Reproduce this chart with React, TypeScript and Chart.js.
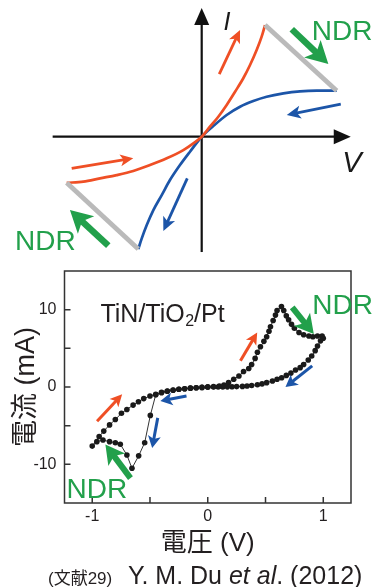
import React, { useEffect, useRef } from "react";
import { Chart, registerables } from "chart.js";
Chart.register(...registerables);

const SANS = "'Liberation Sans', Arial, 'Noto Sans CJK JP', sans-serif";
const TEXT = "#231f20";
const RED = "#ef4f25";
const BLUE = "#1c55a8";
const GREEN = "#22a04b";
const GRAY = "#bababa";

// ---------- schematic (top) ----------
const schemRedV = [-1, -0.877, -0.753, -0.63, -0.507, -0.383, -0.259, -0.136, -0.062, 0, 0.061, 0.123, 0.185, 0.247, 0.308, 0.358, 0.407, 0.444, 0.469];
const schemRedI = [-0.341, -0.333, -0.308, -0.284, -0.254, -0.21, -0.16, -0.099, -0.049, 0, 0.074, 0.148, 0.235, 0.333, 0.433, 0.531, 0.642, 0.741, 0.827];
const schemBlueV = [-0.47, -0.444, -0.407, -0.358, -0.296, -0.235, -0.161, -0.087, 0, 0.086, 0.185, 0.284, 0.382, 0.481, 0.605, 0.728, 0.852, 1.0];
const schemBlueI = [-0.832, -0.753, -0.654, -0.543, -0.432, -0.321, -0.21, -0.111, 0, 0.079, 0.161, 0.222, 0.264, 0.296, 0.321, 0.336, 0.341, 0.341];
const ndrTopV = [0.469, 1.0];
const ndrTopI = [0.827, 0.341];
const ndrBotV = [-1.0, -0.47];
const ndrBotI = [-0.341, -0.832];

// ---------- measured I-V loop (bottom), V in volts, I in mA ----------
const setPosV = [0, 0.05, 0.1, 0.14, 0.18, 0.225, 0.27, 0.31, 0.355, 0.38, 0.41, 0.43, 0.456, 0.486, 0.51, 0.53, 0.543, 0.566, 0.586, 0.6, 0.638, 0.658, 0.68, 0.7, 0.725, 0.75, 0.79, 0.83, 0.875, 0.91, 0.95, 0.99, 1.0];
const setPosI = [0, 0.05, 0.12, 0.25, 0.56, 1.0, 1.43, 2.0, 2.4, 2.9, 3.7, 4.5, 5.2, 5.9, 6.5, 7.2, 7.8, 8.6, 9.3, 9.9, 10.4, 9.9, 9.2, 8.7, 8.1, 7.6, 7.05, 6.75, 6.6, 6.5, 6.6, 6.6, 6.3];
const retPosV = [0.976, 0.95, 0.93, 0.9, 0.87, 0.83, 0.8, 0.76, 0.72, 0.68, 0.64, 0.6, 0.56, 0.51, 0.47, 0.43, 0.38, 0.34, 0.3, 0.25, 0.21, 0.17, 0.13, 0.09, 0.05, 0];
const retPosI = [5.97, 5.3, 4.7, 4.0, 3.5, 2.9, 2.5, 2.2, 1.8, 1.5, 1.2, 1.0, 0.78, 0.56, 0.4, 0.3, 0.2, 0.12, 0.08, 0.05, 0.03, 0.02, 0, 0, 0, 0];
const setNegV = [-0.05, -0.1, -0.15, -0.2, -0.25, -0.3, -0.35, -0.4, -0.45, -0.497, -0.546, -0.598, -0.656, -0.7, -0.757, -0.8, -0.85, -0.907, -0.96, -1.0];
const setNegI = [-0.05, -0.1, -0.15, -0.22, -0.3, -0.4, -0.52, -0.68, -1.0, -3.67, -7.2, -8.9, -10.5, -8.8, -7.4, -7.2, -7.07, -6.86, -7.07, -7.64];
const retNegV = [-0.94, -0.9, -0.85, -0.8, -0.747, -0.7, -0.646, -0.6, -0.554, -0.5, -0.45, -0.4, -0.35, -0.3, -0.25, -0.2, -0.15, -0.1, -0.05, 0];
const retNegI = [-6.4, -5.7, -4.9, -4.2, -3.4, -2.9, -2.34, -1.9, -1.5, -1.17, -0.95, -0.75, -0.55, -0.42, -0.3, -0.22, -0.15, -0.1, -0.05, 0];

const xTicks = [-1, -0.5, 0, 0.5, 1];
const xTickLabels = [-1, 0, 1];
const yTicks = [-10, -5, 0, 5, 10];
const yTickLabels = [-10, 0, 10];

const xTitle = "電圧 (V)";
const yTitle = "電流 (mA)";
const sampleLabel = ["TiN/TiO", "2", "/Pt"];
const ndrLabel = "NDR";
const citeRef = "(文献29)";
const citeAuthors = "Y. M. Du ";
const citeEtAl = "et al";
const citeYear = ". (2012)";

const pts = (xs: number[], ys: number[]) => xs.map((x, i) => ({ x, y: ys[i] }));

function arrow(ctx: CanvasRenderingContext2D, x1: number, y1: number, x2: number, y2: number, color: string, w: number, hl: number, hw: number, notch = 0.25) {
  const a = Math.atan2(y2 - y1, x2 - x1);
  const c = Math.cos(a), s = Math.sin(a);
  const bx = x2 - hl * c, by = y2 - hl * s;
  const nx = bx + hl * notch * c, ny = by + hl * notch * s;
  ctx.save();
  ctx.strokeStyle = color;
  ctx.fillStyle = color;
  ctx.lineWidth = w;
  ctx.lineCap = "butt";
  ctx.beginPath();
  ctx.moveTo(x1, y1);
  ctx.lineTo(nx + c, ny + s);
  ctx.stroke();
  ctx.beginPath();
  ctx.moveTo(x2, y2);
  ctx.lineTo(bx + (hw / 2) * s, by - (hw / 2) * c);
  ctx.lineTo(nx, ny);
  ctx.lineTo(bx - (hw / 2) * s, by + (hw / 2) * c);
  ctx.closePath();
  ctx.fill();
  ctx.restore();
}

const schemPlugin = {
  id: "schem",
  beforeDatasetsDraw(chart: any) {
    const ctx = chart.ctx as CanvasRenderingContext2D;
    const xs = chart.scales.x, ys = chart.scales.y;
    const X = (v: number) => xs.getPixelForValue(v);
    const Y = (v: number) => ys.getPixelForValue(v);
    arrow(ctx, X(0), Y(-0.854), X(0), Y(0.953), "#111", 2.2, 17, 15, 0);
    arrow(ctx, X(-1.104), Y(0), X(1.104), Y(0), "#111", 2.2, 17, 15, 0);
  },
  afterDatasetsDraw(chart: any) {
    const ctx = chart.ctx as CanvasRenderingContext2D;
    const xs = chart.scales.x, ys = chart.scales.y;
    const X = (v: number) => xs.getPixelForValue(v);
    const Y = (v: number) => ys.getPixelForValue(v);
    arrow(ctx, X(0.13), Y(0.464), X(0.284), Y(0.79), RED, 2.8, 13, 12);
    arrow(ctx, X(-0.963), Y(-0.234), X(-0.507), Y(-0.16), RED, 2.8, 13, 12);
    arrow(ctx, X(1.03), Y(0.242), X(0.63), Y(0.161), BLUE, 2.8, 14, 13);
    arrow(ctx, X(-0.107), Y(-0.308), X(-0.284), Y(-0.699), BLUE, 2.8, 14, 13);
    arrow(ctx, X(0.667), Y(0.796), X(0.938), Y(0.539), GREEN, 6.5, 22, 24);
    arrow(ctx, X(-0.692), Y(-0.807), X(-0.976), Y(-0.543), GREEN, 6.5, 22, 24);
    ctx.save();
    ctx.fillStyle = "#1a1a1a";
    ctx.textBaseline = "alphabetic";
    ctx.textAlign = "center";
    ctx.font = `italic 25px ${SANS}`;
    ctx.fillText("I", X(0.187), Y(0.79));
    ctx.font = `italic 29px ${SANS}`;
    ctx.fillText("V", X(1.113), Y(-0.261));
    ctx.fillStyle = GREEN;
    ctx.textAlign = "left";
    ctx.font = `28px ${SANS}`;
    ctx.fillText(ndrLabel, X(0.815), Y(0.716));
    ctx.fillText(ndrLabel, X(-1.383), Y(-0.839));
    ctx.restore();
  },
};

const plotPlugin = {
  id: "plotDeco",
  afterDatasetsDraw(chart: any) {
    const ctx = chart.ctx as CanvasRenderingContext2D;
    const xs = chart.scales.x, ys = chart.scales.y;
    const X = (v: number) => xs.getPixelForValue(v);
    const Y = (v: number) => ys.getPixelForValue(v);
    const a = chart.chartArea;
    ctx.save();
    ctx.strokeStyle = "#333";
    ctx.lineWidth = 1.5;
    ctx.strokeRect(a.left, a.top, a.right - a.left, a.bottom - a.top);
    ctx.beginPath();
    xTicks.forEach((v) => {
      ctx.moveTo(X(v), a.bottom);
      ctx.lineTo(X(v), a.bottom - 6);
    });
    yTicks.forEach((v) => {
      ctx.moveTo(a.left, Y(v));
      ctx.lineTo(a.left + 6, Y(v));
    });
    ctx.stroke();
    ctx.restore();

    arrow(ctx, X(0.283), Y(3.38), X(0.428), Y(7.05), RED, 3, 12, 12);
    arrow(ctx, X(-0.958), Y(-4.42), X(-0.741), Y(-0.95), RED, 3, 12, 12);
    arrow(ctx, X(0.904), Y(2.73), X(0.673), Y(0), BLUE, 3, 12, 13);
    arrow(ctx, X(-0.184), Y(-1.17), X(-0.41), Y(-1.82), BLUE, 3, 12, 13);
    arrow(ctx, X(-0.433), Y(-3.99), X(-0.481), Y(-7.88), BLUE, 3, 12, 13);
    arrow(ctx, X(0.731), Y(10.3), X(0.918), Y(6.84), GREEN, 6, 19, 21);
    arrow(ctx, X(-0.669), Y(-11.78), X(-0.886), Y(-7.44), GREEN, 6, 19, 21);

    ctx.save();
    ctx.textBaseline = "alphabetic";
    ctx.textAlign = "left";
    ctx.fillStyle = TEXT;
    let tx = X(-0.929);
    const ty = Y(8.35);
    ctx.font = `25px ${SANS}`;
    ctx.fillText(sampleLabel[0], tx, ty);
    tx += ctx.measureText(sampleLabel[0]).width;
    ctx.font = `16px ${SANS}`;
    ctx.fillText(sampleLabel[1], tx + 0.5, ty + 4);
    tx += ctx.measureText(sampleLabel[1]).width + 0.5;
    ctx.font = `25px ${SANS}`;
    ctx.fillText(sampleLabel[2], tx, ty);
    ctx.fillStyle = GREEN;
    ctx.font = `28px ${SANS}`;
    ctx.fillText(ndrLabel, X(0.904), Y(9.48));
    ctx.fillText(ndrLabel, X(-1.223), Y(-14.4));
    ctx.fillStyle = TEXT;
    const cy = chart.height - 3;
    ctx.font = `17px ${SANS}`;
    ctx.fillText(citeRef, 48, cy);
    let cx = 128;
    ctx.font = `25px ${SANS}`;
    ctx.fillText(citeAuthors, cx, cy);
    cx += ctx.measureText(citeAuthors).width;
    ctx.font = `italic 25px ${SANS}`;
    ctx.fillText(citeEtAl, cx, cy);
    cx += ctx.measureText(citeEtAl).width;
    ctx.font = `25px ${SANS}`;
    ctx.fillText(citeYear, cx, cy);
    ctx.restore();
  },
};

export default function App() {
  const topRef = useRef<HTMLCanvasElement>(null);
  const botRef = useRef<HTMLCanvasElement>(null);

  useEffect(() => {
    const top = new Chart(topRef.current as HTMLCanvasElement, {
      type: "scatter",
      data: {
        datasets: [
          { data: pts(ndrTopV, ndrTopI), showLine: true, borderColor: GRAY, borderWidth: 4.8, pointRadius: 0 },
          { data: pts(ndrBotV, ndrBotI), showLine: true, borderColor: GRAY, borderWidth: 4.8, pointRadius: 0 },
          { data: pts(schemRedV, schemRedI), showLine: true, borderColor: RED, borderWidth: 2.7, pointRadius: 0, cubicInterpolationMode: "monotone" },
          { data: pts(schemBlueV, schemBlueI), showLine: true, borderColor: BLUE, borderWidth: 2.7, pointRadius: 0, cubicInterpolationMode: "monotone" },
        ],
      } as any,
      options: {
        animation: false,
        responsive: false,
        maintainAspectRatio: false,
        devicePixelRatio: 1,
        layout: { padding: 0 },
        plugins: { legend: { display: false }, tooltip: { enabled: false } },
        scales: {
          x: { type: "linear", display: false, min: -1.494, max: 1.291 },
          y: { type: "linear", display: false, min: -0.913, max: 1.0126 },
        },
      } as any,
      plugins: [schemPlugin],
    });

    const loop = [
      ...pts(setPosV, setPosI),
      ...pts(retPosV, retPosI),
      ...pts(setNegV, setNegI),
      ...pts(retNegV, retNegI),
    ];

    const bottom = new Chart(botRef.current as HTMLCanvasElement, {
      type: "scatter",
      data: {
        datasets: [
          {
            data: loop,
            showLine: true,
            borderColor: "#333",
            borderWidth: 1,
            pointRadius: 2.8,
            pointBackgroundColor: "#1a1a1a",
            pointBorderWidth: 0,
          },
        ],
      } as any,
      options: {
        animation: false,
        responsive: false,
        maintainAspectRatio: false,
        devicePixelRatio: 1,
        layout: { padding: { left: 0, right: 25, top: 11, bottom: 28 } },
        plugins: { legend: { display: false }, tooltip: { enabled: false } },
        scales: {
          x: {
            type: "linear",
            min: -1.24,
            max: 1.24,
            afterBuildTicks: (s: any) => {
              s.ticks = xTicks.map((v) => ({ value: v }));
            },
            afterFit: (s: any) => {
              s.height = 56;
              s.paddingLeft = 0;
              s.paddingRight = 0;
            },
            grid: { display: false, drawTicks: false },
            border: { display: false },
            ticks: {
              padding: 4,
              color: TEXT,
              font: { family: SANS, size: 16 },
              maxRotation: 0,
              autoSkip: false,
              callback: (v: any) => (xTickLabels.includes(Number(v)) ? String(v) : ""),
            },
            title: { display: true, text: xTitle, color: TEXT, font: { family: SANS, size: 26 }, padding: 0 },
          },
          y: {
            type: "linear",
            min: -15,
            max: 15,
            afterBuildTicks: (s: any) => {
              s.ticks = yTicks.map((v) => ({ value: v }));
            },
            afterFit: (s: any) => {
              s.width = 64.5;
              s.paddingTop = 0;
              s.paddingBottom = 0;
            },
            grid: { display: false, drawTicks: false },
            border: { display: false },
            ticks: {
              padding: 8,
              color: TEXT,
              font: { family: SANS, size: 16 },
              autoSkip: false,
              callback: (v: any) => (yTickLabels.includes(Number(v)) ? String(v) : ""),
            },
            title: { display: true, text: yTitle, color: TEXT, font: { family: SANS, size: 27 }, padding: { top: 10, bottom: 0 } },
          },
        },
      } as any,
      plugins: [plotPlugin],
    });

    return () => {
      top.destroy();
      bottom.destroy();
    };
  }, []);

  return (
    <div style={{ position: "absolute", left: 0, top: 0, width: 376, height: 587, background: "#fff", overflow: "hidden" }}>
      <canvas ref={topRef} width={376} height={260} style={{ position: "absolute", left: 0, top: 0 }} />
      <canvas ref={botRef} width={376} height={327} style={{ position: "absolute", left: 0, top: 260 }} />
    </div>
  );
}
